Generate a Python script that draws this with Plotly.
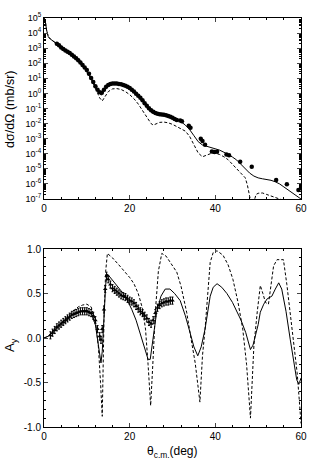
import numpy as np
import plotly.graph_objects as go

# ---------------- top panel: cross section (log10 of mb/sr) ----------------
xs_data_deg = [3.0, 3.5, 4.0, 4.5, 5.0, 5.5, 6.0, 6.5, 7.0, 7.5, 8.0, 8.5, 9.0, 9.5, 10.0,
               10.5, 11.0, 11.5, 12.0, 12.5, 13.0, 13.5, 14.0, 14.5, 15.0, 15.5, 16.0, 16.5,
               17.0, 17.5, 18.0, 18.5, 19.0, 19.5, 20.0, 20.5, 21.0, 21.5, 22.0, 22.5, 23.0,
               23.5, 24.0, 24.5, 25.0, 25.5, 26.0, 26.5, 27.0, 27.5, 28.0, 28.5, 29.0, 29.5,
               30.0, 30.5, 31.0, 31.8, 32.2, 33.8, 34.2, 36.6, 37.0, 37.6, 39.2, 39.8, 40.4,
               42.6, 43.2, 45.8, 48.5, 54.2, 56.7, 59.4]
xs_data_log10 = [3.30, 3.20, 3.05, 2.95, 2.85, 2.77, 2.68, 2.57, 2.45, 2.33, 2.20, 2.05, 1.88,
                 1.72, 1.55, 1.30, 1.02, 0.75, 0.48, 0.25, 0.08, 0.05, 0.25, 0.45, 0.56, 0.62,
                 0.65, 0.66, 0.65, 0.63, 0.60, 0.56, 0.51, 0.45, 0.36, 0.25, 0.12, -0.02, -0.15,
                 -0.28, -0.45, -0.65, -0.82, -0.98, -1.12, -1.22, -1.30, -1.35, -1.38, -1.40,
                 -1.42, -1.45, -1.50, -1.55, -1.62, -1.70, -1.76, -1.80, -1.85, -2.15, -2.28,
                 -3.00, -3.15, -3.40, -3.85, -3.88, -3.86, -4.05, -4.10, -4.53, -4.86, -5.74,
                 -6.03, -6.40]

xs_solid_deg = [0.0, 0.3, 0.6, 1.0, 1.5, 2.0, 3.0, 4.0, 5.0, 6.0, 7.0, 8.0, 9.0, 10.0, 11.0,
                12.0, 12.8, 13.4, 14.0, 15.0, 16.0, 17.0, 18.0, 19.0, 20.0, 21.0, 22.0, 23.0,
                24.0, 25.0, 26.0, 27.0, 28.0, 29.0, 30.0, 31.0, 32.0, 33.0, 34.0, 35.0, 36.0,
                37.0, 38.0, 39.0, 40.0, 41.0, 42.0, 43.0, 44.0, 45.0, 46.0, 47.0, 48.0, 49.0,
                50.0, 51.0, 52.0, 53.0, 54.0, 55.0, 56.0, 57.0, 58.0, 59.0, 60.0]
xs_solid_log10 = [5.0, 4.8, 4.2, 3.76, 3.6, 3.5, 3.32, 3.08, 2.87, 2.68, 2.45, 2.2, 1.88, 1.52,
                  1.05, 0.5, 0.05, -0.12, 0.15, 0.5, 0.62, 0.63, 0.58, 0.48, 0.32, 0.1, -0.2,
                  -0.55, -0.95, -1.25, -1.38, -1.42, -1.45, -1.5, -1.6, -1.72, -1.88, -2.1,
                  -2.4, -2.8, -3.2, -3.42, -3.5, -3.58, -3.68, -3.76, -3.9, -4.05, -4.22,
                  -4.42, -4.7, -5.0, -5.28, -5.48, -5.6, -5.66, -5.7, -5.76, -5.86, -6.0,
                  -6.2, -6.4, -6.6, -6.85, -7.0]

xs_dash_deg = [0.0, 0.3, 0.6, 1.0, 1.5, 2.0, 3.0, 4.0, 5.0, 6.0, 7.0, 8.0, 9.0, 10.0, 11.0,
               12.0, 13.0, 13.6, 14.2, 15.0, 16.0, 17.0, 18.0, 19.0, 20.0, 21.0, 22.0, 23.0,
               24.0, 25.0, 25.5, 26.0, 27.0, 28.0, 29.0, 30.0, 31.0, 32.0, 33.0, 34.0, 35.0,
               36.0, 37.0, 38.0, 39.0, 40.0, 41.0, 42.0, 43.0, 44.0, 45.0, 46.0, 47.0, 47.5,
               48.0, 48.5, 49.0, 49.5, 50.0, 51.0, 52.0, 53.0, 54.0, 55.0, 56.0, 57.0]
xs_dash_log10 = [5.0, 4.8, 4.2, 3.76, 3.6, 3.5, 3.3, 3.05, 2.84, 2.64, 2.4, 2.12, 1.8, 1.42,
                 0.95, 0.35, -0.3, -0.5, -0.2, 0.12, 0.3, 0.32, 0.26, 0.12, -0.08, -0.35,
                 -0.7, -1.15, -1.6, -2.0, -2.1, -2.05, -1.92, -1.9, -1.95, -2.05, -2.2, -2.35,
                 -2.5, -2.85, -3.4, -3.95, -4.2, -4.1, -3.98, -3.97, -4.05, -4.2, -4.4, -4.7,
                 -5.0, -5.3, -5.6, -6.1, -6.8, -7.5, -7.2, -6.7, -6.62, -6.6, -6.7, -6.8,
                 -6.87, -6.95, -7.1, -7.5]

xs_tick_exponents = [5, 4, 3, 2, 1, 0, -1, -2, -3, -4, -5, -6, -7]

# ---------------- bottom panel: analyzing power Ay ----------------
ay_data_deg = [1.5, 2.0, 2.5, 3.0, 3.5, 4.0, 4.5, 5.0, 5.5, 6.0, 6.5, 7.0, 7.5, 8.0, 8.5, 9.0,
               9.5, 10.0, 10.5, 11.0, 11.5, 12.0, 12.5, 13.0, 13.3, 13.6, 14.0, 14.3, 14.6,
               15.0, 15.5, 16.0, 16.5, 17.0, 17.5, 18.0, 18.5, 19.0, 19.5, 20.0, 20.5, 21.0,
               21.5, 22.0, 22.5, 23.0, 23.5, 24.0, 24.5, 25.0, 25.5, 26.0, 26.5, 27.0, 27.5,
               28.0, 28.5, 29.0, 29.5, 30.0]
ay_data = [0.03, 0.06, 0.09, 0.12, 0.14, 0.16, 0.18, 0.20, 0.22, 0.24, 0.26, 0.27, 0.28,
           0.29, 0.30, 0.30, 0.30, 0.30, 0.29, 0.28, 0.25, 0.20, 0.10, 0.02, -0.02, 0.10,
           0.32, 0.55, 0.70, 0.66, 0.60, 0.56, 0.54, 0.52, 0.50, 0.48, 0.47, 0.46, 0.44,
           0.42, 0.41, 0.39, 0.36, 0.33, 0.30, 0.28, 0.25, 0.22, 0.18, 0.16, 0.20, 0.28,
           0.34, 0.37, 0.39, 0.40, 0.41, 0.41, 0.42, 0.42]
ay_data_err = [0.04] * len(ay_data)

ay_solid_deg = [0, 1, 2, 3, 4, 5, 6, 7, 8, 9, 10, 11, 12, 12.5, 13.0, 13.3, 13.6, 14.0, 14.4,
                14.8, 15.5, 16.4, 17.5, 18.5, 19.5, 20.5, 21.5, 22.5, 23.5, 24.3, 24.8, 25.3,
                26.3, 27.3, 28.3, 29.4, 30.5, 31.8, 33.0, 34.1, 35.0, 35.9, 36.7, 37.6, 38.2,
                38.8, 39.5, 40.4, 41.5, 42.7, 44.0, 45.1, 46.0, 47.1, 47.7, 48.2, 48.8, 49.4,
                50.0, 50.5, 51.3, 52.1, 53.2, 54.0, 54.8, 55.5, 56.5, 57.5, 58.3, 59.0, 59.5,
                60.0]
ay_solid = [0.0, 0.02, 0.06, 0.11, 0.16, 0.2, 0.24, 0.27, 0.29, 0.31, 0.31, 0.28, 0.15, 0.0,
            -0.2, -0.28, -0.15, 0.25, 0.6, 0.72, 0.68, 0.63, 0.57, 0.5, 0.42, 0.32, 0.2,
            0.05, -0.12, -0.24, -0.24, -0.05, 0.29, 0.47, 0.55, 0.55, 0.5, 0.42, 0.25, 0.06,
            -0.1, -0.2, -0.1, 0.1, 0.3, 0.47, 0.57, 0.61, 0.57, 0.5, 0.4, 0.29, 0.2, 0.06,
            -0.05, -0.13, -0.08, 0.02, 0.15, 0.29, 0.38, 0.44, 0.47, 0.55, 0.62, 0.55, 0.3,
            -0.02, -0.25, -0.47, -0.52, -0.45]

ay_dash_deg = [0, 1, 2, 3, 4, 5, 6, 7, 8, 9, 10, 11, 12, 12.7, 13.2, 13.6, 14.0, 14.4, 14.8,
               16.0, 17.5, 19.0, 20.0, 21.0, 22.0, 23.0, 23.7, 24.3, 24.9, 25.4, 26.0, 26.7,
               27.5, 28.5, 29.5, 31.0, 32.0, 33.3, 34.3, 35.3, 36.4, 37.0, 37.6, 38.2, 38.8,
               39.5, 40.4, 41.8, 43.0, 44.1, 45.3, 46.4, 47.3, 48.2, 48.7, 49.0, 49.8, 50.5,
               51.1, 51.7, 52.4, 53.0, 53.6, 54.4, 55.9, 56.7, 57.5, 58.3, 59.1, 59.6, 60.0]
ay_dash = [0.0, 0.02, 0.07, 0.12, 0.17, 0.22, 0.27, 0.31, 0.35, 0.37, 0.38, 0.35, 0.2, -0.1,
           -0.5, -0.88, 0.2, 0.75, 0.95, 0.9, 0.82, 0.74, 0.68, 0.61, 0.5, 0.33, 0.1, -0.3,
           -0.76, -0.3, 0.3, 0.75, 0.95, 0.92, 0.85, 0.74, 0.58, 0.29, 0.0, -0.28, -0.72,
           -0.2, 0.1, 0.5, 0.85, 0.96, 0.98, 0.93, 0.82, 0.66, 0.4, 0.1, -0.3, -0.9, -0.4,
           -0.09, 0.3, 0.59, 0.5, 0.4, 0.38, 0.6, 0.81, 0.88, 0.88, 0.6, 0.29, -0.05, -0.39,
           -0.7, -0.96]

ay_tickvals = [-1.0, -0.5, 0.0, 0.5, 1.0]
ay_ticktext = ["-1.0", "-0.5", "0.0", "0.5", "1.0"]
x_ticks = [0, 20, 40, 60]

W, H = 310, 465
FONT = "Liberation Sans, Arial, sans-serif"


def px_x(p):
    return p / W


def px_y(p):
    return 1 - p / H


fig = go.Figure()

line_solid = dict(color="black", width=1)
line_dash = dict(color="black", width=1, dash="3px,2px")

# top panel
fig.add_trace(go.Scatter(x=xs_dash_deg, y=np.power(10.0, xs_dash_log10), mode="lines",
                         line=line_dash, xaxis="x", yaxis="y", showlegend=False))
fig.add_trace(go.Scatter(x=xs_solid_deg, y=np.power(10.0, xs_solid_log10), mode="lines",
                         line=line_solid, xaxis="x", yaxis="y", showlegend=False))
fig.add_trace(go.Scatter(x=xs_data_deg, y=np.power(10.0, xs_data_log10), mode="markers",
                         marker=dict(color="black", size=4.5, symbol="circle"),
                         xaxis="x", yaxis="y", showlegend=False))

# bottom panel
fig.add_trace(go.Scatter(x=ay_dash_deg, y=ay_dash, mode="lines", line=line_dash,
                         xaxis="x2", yaxis="y2", showlegend=False))
fig.add_trace(go.Scatter(x=ay_solid_deg, y=ay_solid, mode="lines", line=line_solid,
                         xaxis="x2", yaxis="y2", showlegend=False))
fig.add_trace(go.Scatter(x=ay_data_deg, y=ay_data, mode="markers",
                         marker=dict(color="black", size=4, symbol="triangle-up"),
                         error_y=dict(type="data", array=ay_data_err, color="black",
                                      thickness=1, width=1),
                         xaxis="x2", yaxis="y2", showlegend=False))

xdom = [px_x(44), px_x(301)]
common_x = dict(range=[0, 60], tickvals=x_ticks, ticks="inside", ticklen=4,
                showline=True, linecolor="black", linewidth=1, mirror="allticks",
                showgrid=False, zeroline=False, domain=xdom, automargin=False,
                tickfont=dict(family=FONT, size=10, color="black"),
                minor=dict(dtick=4, ticks="inside", ticklen=2, tickcolor="black"))

log_tickvals = [10.0 ** e for e in xs_tick_exponents]
log_ticktext = ["10<sup>%d</sup>" % e for e in xs_tick_exponents]

fig.update_layout(
    width=W, height=H, margin=dict(l=0, r=0, t=0, b=0),
    paper_bgcolor="white", plot_bgcolor="white",
    font=dict(family=FONT, size=10, color="black"),
    xaxis=dict(common_x, anchor="y"),
    yaxis=dict(type="log", range=[-7, 5], tickvals=log_tickvals, ticktext=log_ticktext,
               ticks="inside", ticklen=4, showline=True, linecolor="black",
               linewidth=1, mirror="allticks", showgrid=False, zeroline=False,
               domain=[px_y(199), px_y(18)], anchor="x", automargin=False,
               tickfont=dict(family=FONT, size=9, color="black"),
               minor=dict(ticks="inside", ticklen=2, dtick="D1", tickcolor="black")),
    xaxis2=dict(common_x, anchor="y2"),
    yaxis2=dict(range=[-1.0, 1.0], tickvals=ay_tickvals, ticktext=ay_ticktext,
                ticks="inside", ticklen=4, showline=True, linecolor="black",
                linewidth=1, mirror="allticks", showgrid=False, zeroline=False,
                domain=[px_y(427), px_y(249)], anchor="x2", automargin=False,
                tickfont=dict(family=FONT, size=10, color="black"),
                minor=dict(dtick=0.1, ticks="inside", ticklen=2, tickcolor="black")),
    annotations=[
        dict(text="dσ/dΩ (mb/sr)", x=px_x(10), y=px_y(110), xref="paper", yref="paper",
             xanchor="center", yanchor="middle",
             textangle=-90, showarrow=False, font=dict(family=FONT, size=12.5)),
        dict(text="A<sub>y</sub>", x=px_x(10), y=px_y(345), xref="paper", yref="paper",
             xanchor="center", yanchor="middle",
             textangle=-90, showarrow=False, font=dict(family=FONT, size=13)),
        dict(text="θ<sub>c.m.</sub>(deg)", x=px_x(172), y=px_y(452), xref="paper",
             yref="paper", xanchor="center", yanchor="middle",
             showarrow=False, font=dict(family=FONT, size=12)),
    ],
)

fig.write_html("out.html")
